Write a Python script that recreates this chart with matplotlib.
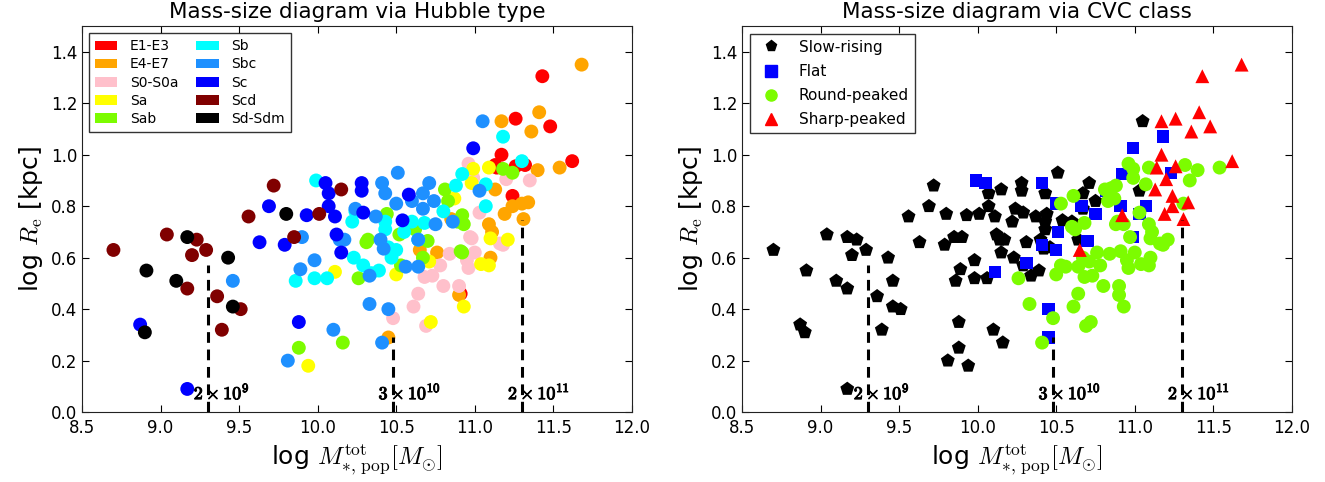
import matplotlib
matplotlib.use('Agg')
import matplotlib.pyplot as plt
import matplotlib.patheffects as pe
import numpy as np
from matplotlib.patches import Patch
from matplotlib.lines import Line2D

plt.rcParams['mathtext.fontset'] = 'cm'
plt.rcParams['xtick.direction'] = 'in'
plt.rcParams['ytick.direction'] = 'in'
plt.rcParams['xtick.top'] = True
plt.rcParams['ytick.right'] = True
plt.rcParams['xtick.major.size'] = 5
plt.rcParams['ytick.major.size'] = 5
plt.rcParams['xtick.major.pad'] = 5
plt.rcParams['xtick.labelsize'] = 12
plt.rcParams['ytick.labelsize'] = 12

# (log M*, log Re) per Hubble type
e1_e3 = [(11.43, 1.305), (11.48, 1.11), (11.26, 1.14), (11.17, 1.00), (11.62, 0.975),
         (11.32, 0.96), (11.26, 0.955), (11.14, 0.95), (11.13, 0.96), (11.24, 0.84),
         (10.91, 0.46)]
e4_e7 = [(11.68, 1.35), (11.41, 1.165), (11.36, 1.09), (11.17, 1.13), (11.54, 0.95),
         (11.40, 0.94), (11.13, 0.865), (11.34, 0.815), (11.30, 0.81), (11.24, 0.80),
         (11.19, 0.77), (11.31, 0.75), (11.09, 0.73), (11.11, 0.70), (11.10, 0.60),
         (10.76, 0.62), (10.65, 0.63), (10.90, 0.455), (10.45, 0.29), (10.85, 0.75)]
s0_s0a = [(10.96, 0.965), (11.35, 0.90), (11.20, 0.905), (10.99, 0.91), (11.03, 0.775),
          (10.97, 0.68), (11.18, 0.65), (11.16, 0.655), (11.00, 0.62), (10.96, 0.56),
          (10.95, 0.59), (10.84, 0.615), (10.78, 0.57), (10.68, 0.525), (10.73, 0.53),
          (10.80, 0.49), (10.90, 0.49), (10.64, 0.46), (10.61, 0.41), (10.69, 0.335),
          (10.48, 0.365), (10.98, 0.675)]
sa = [(10.99, 0.945), (11.09, 0.95), (10.98, 0.89), (11.10, 0.675), (11.21, 0.67),
      (11.09, 0.57), (11.04, 0.575), (10.71, 0.585), (10.93, 0.41), (10.72, 0.35),
      (10.50, 0.535), (10.11, 0.545), (9.94, 0.18), (10.60, 0.72), (10.87, 0.83)]
sab = [(10.16, 0.27), (9.88, 0.25), (10.26, 0.52), (10.32, 0.67), (10.52, 0.69),
       (10.44, 0.77), (10.70, 0.665), (10.67, 0.60), (10.91, 0.625), (10.53, 0.57),
       (10.31, 0.66), (10.81, 0.865), (11.24, 0.93), (11.18, 0.945), (10.92, 0.765),
       (10.93, 0.73), (10.89, 0.74), (10.62, 0.71), (10.83, 0.82), (10.92, 0.62)]
sb = [(9.99, 0.90), (10.22, 0.74), (10.23, 0.60), (9.86, 0.51), (9.98, 0.52),
      (10.06, 0.52), (10.29, 0.57), (10.39, 0.55), (10.43, 0.74), (10.43, 0.71),
      (10.45, 0.64), (10.50, 0.63), (10.47, 0.60), (10.60, 0.74), (10.68, 0.735),
      (10.64, 0.67), (10.92, 0.925), (11.18, 1.07), (11.30, 0.975), (11.07, 0.885),
      (11.07, 0.80), (10.88, 0.88), (10.24, 0.78), (10.34, 0.54), (10.80, 0.78),
      (10.55, 0.70)]
sbc = [(9.46, 0.51), (9.90, 0.68), (10.14, 0.67), (10.17, 0.67), (10.24, 0.79),
       (9.98, 0.59), (9.89, 0.555), (10.10, 0.32), (9.81, 0.20), (10.41, 0.89),
       (10.43, 0.85), (10.51, 0.93), (10.50, 0.81), (10.60, 0.82), (10.67, 0.85),
       (10.71, 0.89), (10.74, 0.82), (10.67, 0.79), (10.75, 0.73), (10.40, 0.67),
       (10.42, 0.635), (10.64, 0.67), (10.64, 0.565), (10.33, 0.42), (10.45, 0.40),
       (10.41, 0.27), (10.33, 0.53), (10.56, 0.565), (11.05, 1.13), (11.03, 0.86),
       (10.86, 0.74), (10.37, 0.76)]
sc = [(8.87, 0.34), (9.17, 0.09), (9.63, 0.66), (9.69, 0.80), (9.79, 0.65),
      (9.93, 0.765), (10.05, 0.89), (10.07, 0.85), (10.07, 0.80), (10.11, 0.76),
      (10.12, 0.69), (10.15, 0.62), (9.88, 0.35), (10.28, 0.89), (10.28, 0.86),
      (10.29, 0.775), (10.58, 0.845), (10.54, 0.745), (10.99, 1.025)]
scd = [(8.70, 0.63), (9.04, 0.69), (9.23, 0.67), (9.20, 0.61), (9.29, 0.63),
       (9.17, 0.48), (9.36, 0.45), (9.51, 0.40), (9.39, 0.32), (9.56, 0.76),
       (9.72, 0.88), (9.85, 0.68), (10.01, 0.77), (10.15, 0.865)]
sd_sdm = [(9.17, 0.68), (8.91, 0.55), (9.10, 0.51), (9.43, 0.60), (9.46, 0.41),
          (8.90, 0.31), (9.80, 0.77)]

# same galaxies, grouped by circular-velocity-curve class
slow_rising = [(8.70, 0.63), (9.04, 0.69), (9.17, 0.68), (9.23, 0.67), (9.20, 0.61),
               (9.29, 0.63), (8.91, 0.55), (9.10, 0.51), (9.17, 0.48), (9.43, 0.60),
               (9.46, 0.51), (9.36, 0.45), (9.46, 0.41), (9.51, 0.40), (9.39, 0.32),
               (8.87, 0.34), (8.90, 0.31), (9.17, 0.09), (9.56, 0.76), (9.63, 0.66),
               (9.69, 0.80), (9.72, 0.88), (9.79, 0.65), (9.80, 0.77), (9.85, 0.68),
               (9.90, 0.68), (9.93, 0.765), (10.01, 0.77), (10.07, 0.85), (10.07, 0.80),
               (10.11, 0.76), (10.12, 0.69), (10.14, 0.67), (10.17, 0.67), (10.15, 0.62),
               (10.15, 0.865), (9.86, 0.51), (9.89, 0.555), (9.98, 0.52), (9.98, 0.59),
               (10.06, 0.52), (9.88, 0.35), (10.10, 0.32), (10.16, 0.27), (9.88, 0.25),
               (9.81, 0.20), (9.94, 0.18), (10.24, 0.79), (10.22, 0.74), (10.23, 0.60),
               (10.28, 0.89), (10.28, 0.86), (10.29, 0.775), (10.29, 0.57), (10.51, 0.93),
               (10.43, 0.85), (10.71, 0.89), (10.67, 0.85), (10.75, 0.82), (10.54, 0.745),
               (10.43, 0.74), (10.44, 0.77), (10.31, 0.66), (10.42, 0.635), (10.46, 0.64),
               (10.40, 0.67), (10.34, 0.53), (10.39, 0.55), (10.43, 0.71), (10.37, 0.76),
               (11.05, 1.13), (11.03, 0.86), (10.60, 0.74), (10.64, 0.67), (10.67, 0.79)]
flat = [(9.99, 0.90), (10.05, 0.89), (10.11, 0.545), (10.31, 0.58), (10.41, 0.89),
        (10.41, 0.65), (10.45, 0.40), (10.45, 0.29), (10.50, 0.63), (10.51, 0.70),
        (10.66, 0.80), (10.70, 0.665), (10.75, 0.77), (10.82, 0.86), (10.91, 0.80),
        (10.92, 0.925), (10.99, 1.025), (10.99, 0.68), (11.03, 0.77), (11.07, 0.80),
        (11.18, 1.07), (11.23, 0.93), (10.50, 0.81)]
round_peaked = [(10.26, 0.52), (10.33, 0.42), (10.41, 0.27), (10.48, 0.365), (10.50, 0.535),
                (10.53, 0.57), (10.56, 0.565), (10.53, 0.81), (10.61, 0.84), (10.61, 0.41),
                (10.64, 0.46), (10.64, 0.565), (10.67, 0.60), (10.68, 0.525), (10.69, 0.335),
                (10.71, 0.585), (10.72, 0.35), (10.73, 0.53), (10.76, 0.62), (10.78, 0.57),
                (10.80, 0.49), (10.81, 0.865), (10.83, 0.82), (10.84, 0.615), (10.85, 0.87),
                (10.87, 0.83), (10.88, 0.73), (10.88, 0.88), (10.89, 0.74), (10.90, 0.49),
                (10.90, 0.455), (10.91, 0.625), (10.93, 0.41), (10.93, 0.73), (10.95, 0.59),
                (10.96, 0.56), (10.96, 0.965), (10.97, 0.68), (10.99, 0.945), (10.99, 0.91),
                (11.00, 0.62), (11.04, 0.575), (11.07, 0.885), (11.09, 0.95), (11.09, 0.73),
                (11.09, 0.57), (11.10, 0.675), (11.11, 0.70), (11.10, 0.60), (11.16, 0.655),
                (11.18, 0.65), (11.21, 0.67), (11.03, 0.775), (11.31, 0.81), (11.32, 0.96),
                (11.35, 0.90), (11.40, 0.94), (11.54, 0.95), (10.62, 0.71), (10.60, 0.72),
                (10.68, 0.735)]
sharp_peaked = [(11.68, 1.35), (11.43, 1.305), (11.41, 1.165), (11.48, 1.11), (11.36, 1.09),
                (11.26, 1.14), (11.17, 1.13), (11.17, 1.00), (11.62, 0.975), (11.26, 0.955),
                (11.14, 0.95), (11.20, 0.905), (11.13, 0.865), (11.24, 0.84), (11.34, 0.815),
                (11.24, 0.80), (11.19, 0.77), (11.31, 0.75), (10.92, 0.765), (10.65, 0.63)]

hubble_groups = [e1_e3, e4_e7, s0_s0a, sa, sab, sb, sbc, sc, scd, sd_sdm]
hubble_names = ['E1-E3', 'E4-E7', 'S0-S0a', 'Sa', 'Sab', 'Sb', 'Sbc', 'Sc', 'Scd', 'Sd-Sdm']
hubble_colors = ['red', 'orange', 'pink', 'yellow', 'lawngreen',
                 'cyan', 'dodgerblue', 'blue', 'maroon', 'black']

cvc_groups = [slow_rising, flat, round_peaked, sharp_peaked]
cvc_names = ['Slow-rising', 'Flat', 'Round-peaked', 'Sharp-peaked']
cvc_colors = ['black', 'blue', 'lawngreen', 'red']
cvc_markers = ['p', 's', 'o', '^']
cvc_sizes = [110, 80, 100, 100]

# stellar-mass limits and how far up each marker line runs
mass_cuts = [2e9, 3e10, 2e11]
cut_tops = [0.57, 0.29, 0.745]
cut_labels = [r'$\mathbf{2\times 10^{9}}$', r'$\mathbf{3\times 10^{10}}$',
              r'$\mathbf{2\times 10^{11}}$']

xlabel = r'log $M_{*,\,\rm pop}^{\rm tot} [M_{\odot}]$'
ylabel = r'log $R_{\rm e}$ [kpc]'

fig = plt.figure(figsize=(13.25, 4.82), dpi=100)
ax1 = fig.add_axes([0.0619, 0.145, 0.415, 0.801])
ax2 = fig.add_axes([0.560, 0.145, 0.415, 0.801])


def mass_limits(ax):
    for m, top, lab in zip(mass_cuts, cut_tops, cut_labels):
        lm = np.log10(m)
        ax.plot([lm, lm], [0, top], color='black', lw=2.2, ls=(0, (3.5, 2.2)), zorder=5)
        ax.text(lm - 0.09, 0.035, lab, fontsize=13, ha='left', va='bottom', zorder=6,
                path_effects=[pe.withStroke(linewidth=0.7, foreground='black')])


def setup(ax, title):
    ax.set_xlim(8.5, 12.0)
    ax.set_ylim(0, 1.5)
    ax.set_xticks(np.arange(8.5, 12.01, 0.5))
    ax.set_yticks(np.arange(0, 1.41, 0.2))
    ax.set_title(title, fontsize=15.5)
    ax.set_xlabel(xlabel, fontsize=18)
    ax.set_ylabel(ylabel, fontsize=18)
    for s in ax.spines.values():
        s.set_color('#222222')


for pts, name, col in zip(hubble_groups, hubble_names, hubble_colors):
    xy = np.array(pts)
    ax1.scatter(xy[:, 0], xy[:, 1], s=100, c=col, edgecolors='none', label=name)
mass_limits(ax1)
setup(ax1, 'Mass-size diagram via Hubble type')
handles = [Patch(facecolor=c, edgecolor='none') for c in hubble_colors]
leg = ax1.legend(handles, hubble_names, loc='upper left', ncol=2, fontsize=10,
                 frameon=True, fancybox=False, labelspacing=0.3, handlelength=1.6,
                 columnspacing=1.3, borderpad=0.45, handletextpad=0.9)
leg.get_frame().set_edgecolor('black')

for pts, name, col, mk, sz in zip(cvc_groups, cvc_names, cvc_colors, cvc_markers, cvc_sizes):
    xy = np.array(pts)
    ax2.scatter(xy[:, 0], xy[:, 1], s=sz, c=col, marker=mk, edgecolors='none', label=name)
mass_limits(ax2)
setup(ax2, 'Mass-size diagram via CVC class')
handles = [Line2D([], [], ls='none', marker=mk, color=c, markersize=8)
           for c, mk in zip(cvc_colors, cvc_markers)]
leg = ax2.legend(handles, cvc_names, loc='upper left', fontsize=11, frameon=True,
                 fancybox=False, labelspacing=0.6, handlelength=2.0, borderpad=0.4)
leg.get_frame().set_edgecolor('black')

fig.savefig('out.png', dpi=100)
